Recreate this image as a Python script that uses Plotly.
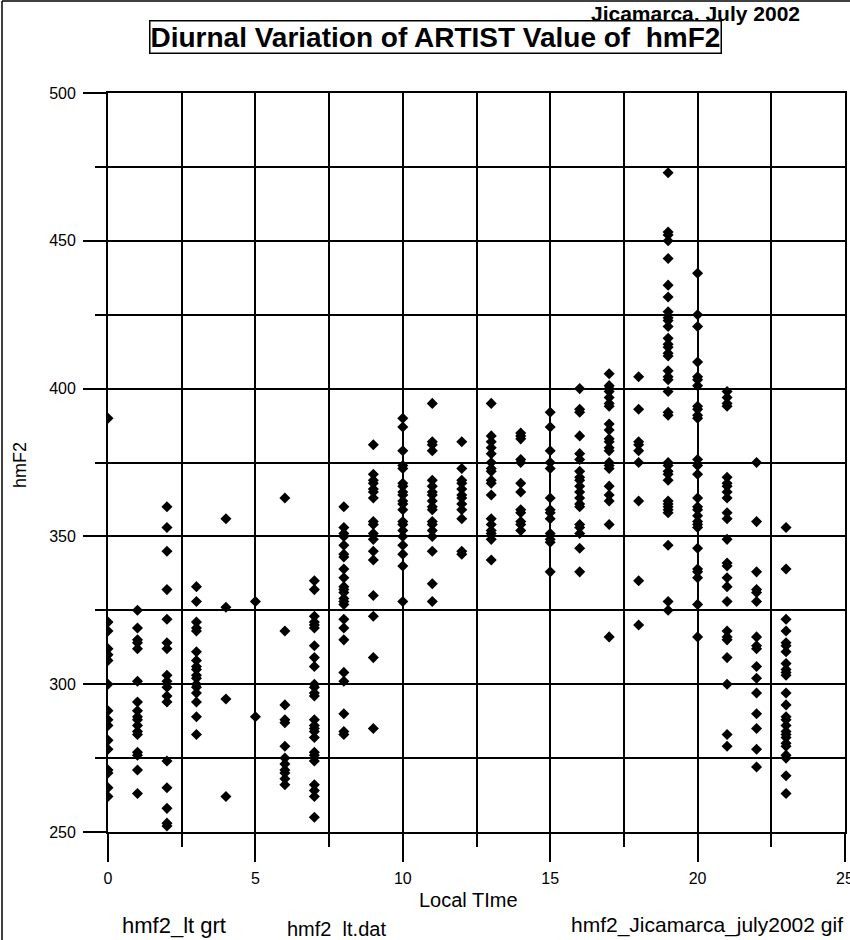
import plotly.graph_objects as go

# hmF2 values (km) from ARTIST, grouped by local hour
hmf2_h00 = [390, 321, 318, 312, 310, 308, 300, 291, 288, 286, 281, 278, 271, 270, 265, 262]
hmf2_h01 = [325, 319, 315, 314, 312, 301, 294, 291, 289, 288, 286, 284, 283, 277, 276, 271, 263]
hmf2_h02 = [360, 353, 345, 332, 322, 314, 312, 303, 301, 299, 296, 294, 274, 265, 258, 253, 252]
hmf2_h03 = [333, 328, 321, 319, 318, 311, 308, 306, 305, 303, 302, 300, 299, 297, 294, 289, 283]
hmf2_h04 = [356, 326, 295, 262]
hmf2_h05 = [328, 289]
hmf2_h06 = [363, 318, 293, 288, 287, 279, 275, 273, 271, 270, 268, 266]
hmf2_h07 = [335, 332, 323, 321, 320, 319, 313, 309, 306, 300, 299, 297, 296, 288, 286, 285, 284, 282,
            277, 276, 274, 266, 264, 262, 255]
hmf2_h08 = [360, 353, 351, 350, 347, 344, 343, 339, 336, 333, 332, 331, 329, 328, 327, 322, 319, 315,
            304, 301, 290, 284, 283]
hmf2_h09 = [381, 371, 369, 368, 366, 365, 363, 355, 354, 351, 349, 345, 342, 330, 323, 309, 285]
hmf2_h10 = [390, 387, 379, 374, 373, 368, 367, 365, 364, 362, 361, 359, 355, 354, 352, 350, 347, 344,
            340, 328]
hmf2_h11 = [395, 382, 381, 379, 369, 367, 365, 364, 362, 360, 359, 355, 354, 352, 350, 345, 334, 328]
hmf2_h12 = [382, 373, 369, 368, 366, 364, 363, 361, 359, 356, 345, 344]
hmf2_h13 = [395, 384, 382, 380, 378, 375, 373, 372, 369, 368, 364, 356, 354, 352, 351, 349, 342]
hmf2_h14 = [385, 384, 383, 376, 375, 368, 365, 359, 358, 355, 354, 352]
hmf2_h15 = [392, 387, 379, 375, 373, 363, 359, 358, 356, 351, 349, 348, 338]
hmf2_h16 = [400, 393, 392, 384, 378, 376, 372, 370, 369, 367, 365, 363, 361, 360, 354, 353, 351, 346, 338]
hmf2_h17 = [405, 401, 400, 399, 397, 395, 394, 388, 386, 383, 382, 380, 379, 375, 374, 373, 367, 364,
            362, 354, 316]
hmf2_h18 = [404, 393, 382, 381, 379, 375, 362, 335, 320]
hmf2_h19 = [473, 453, 452, 450, 444, 435, 431, 426, 424, 423, 421, 417, 415, 414, 412, 411, 406, 404,
            403, 399, 392, 391, 375, 374, 372, 371, 369, 362, 361, 360, 359, 358, 347, 328, 325]
hmf2_h20 = [439, 425, 421, 409, 404, 403, 401, 394, 393, 391, 390, 376, 374, 371, 363, 360, 359, 357,
            355, 354, 353, 346, 339, 338, 336, 327, 316]
hmf2_h21 = [399, 397, 395, 394, 370, 368, 367, 365, 363, 358, 356, 349, 341, 340, 336, 333, 328, 318,
            316, 315, 309, 300, 283, 279]
hmf2_h22 = [375, 355, 338, 332, 331, 328, 316, 313, 312, 306, 302, 297, 290, 285, 278, 272]
hmf2_h23 = [353, 339, 322, 318, 314, 313, 311, 307, 305, 304, 303, 297, 293, 289, 288, 286, 284, 283,
            282, 280, 279, 276, 275, 269, 263]

hours = list(range(24))
columns = [hmf2_h00, hmf2_h01, hmf2_h02, hmf2_h03, hmf2_h04, hmf2_h05, hmf2_h06, hmf2_h07,
           hmf2_h08, hmf2_h09, hmf2_h10, hmf2_h11, hmf2_h12, hmf2_h13, hmf2_h14, hmf2_h15,
           hmf2_h16, hmf2_h17, hmf2_h18, hmf2_h19, hmf2_h20, hmf2_h21, hmf2_h22, hmf2_h23]

xs, ys = [], []
for h, col in zip(hours, columns):
    xs.extend([h] * len(col))
    ys.extend(col)

FONT = "Liberation Sans, Arial, sans-serif"

fig = go.Figure(go.Scatter(
    x=xs, y=ys, mode="markers",
    marker=dict(symbol="diamond", size=8.5, color="black", line=dict(width=0)),
    showlegend=False,
))

W, H = 850, 940
L, R, T, B = 108, 5, 93, 108
pw, ph = W - L - R, H - T - B


def px(xp):
    return (xp - L) / pw


def py(yp):
    return (H - B - yp) / ph


def label(text, xp, yp, size, **kw):
    return dict(text=text, x=px(xp), y=py(yp), xref="paper", yref="paper",
                xanchor="center", yanchor="middle", showarrow=False,
                font=dict(size=size), **kw)


grid = dict(showgrid=True, gridcolor="black", gridwidth=1.8)

fig.update_layout(
    width=W, height=H,
    margin=dict(l=L, r=R, t=T, b=B, autoexpand=False),
    paper_bgcolor="white", plot_bgcolor="white",
    font=dict(family=FONT, size=16, color="black"),
    xaxis=dict(
        range=[0, 25], dtick=5, tick0=0, **grid, automargin=False,
        zeroline=False, showline=True, linecolor="black", linewidth=1.8, mirror=True,
        ticks="outside", ticklen=28, tickwidth=1.5, tickcolor="black",
        ticklabelstandoff=3, ticklabeloverflow="allow",
        minor=dict(dtick=2.5, ticks="outside", ticklen=13, tickwidth=1.5, tickcolor="black", **grid),
        tickfont=dict(size=16),
    ),
    yaxis=dict(
        range=[250, 500], dtick=50, tick0=250, **grid, automargin=False,
        zeroline=False, showline=True, linecolor="black", linewidth=1.8, mirror=True,
        ticks="outside", ticklen=23, tickwidth=1.5, tickcolor="black",
        ticklabelstandoff=4,
        minor=dict(dtick=25, ticks="outside", ticklen=11, tickwidth=1.5, tickcolor="black", **grid),
        tickfont=dict(size=16),
    ),
    shapes=[
        dict(type="line", xref="paper", yref="paper", x0=px(2), x1=px(2), y0=py(1), y1=py(H),
             line=dict(color="black", width=1.5)),
        dict(type="line", xref="paper", yref="paper", x0=px(2), x1=px(W), y0=py(1), y1=py(1),
             line=dict(color="black", width=1.5)),
    ],
    annotations=[
        label("<b>Jicamarca, July 2002</b>", 695, 13, 21),
        label("<b>Diurnal Variation of ARTIST Value of  hmF2</b>", 435, 37, 28,
              bordercolor="black", borderwidth=1.5, borderpad=0, bgcolor="white"),
        label("hmF2", 20, 465, 18, textangle=-90),
        label("Local TIme", 468, 900, 20),
        label("hmf2_lt grt", 174, 925, 22),
        label("hmf2  lt.dat", 336, 929, 20),
        label("hmf2_Jicamarca_july2002 gif", 707, 925, 21),
    ],
)

fig.write_html("out.html")
